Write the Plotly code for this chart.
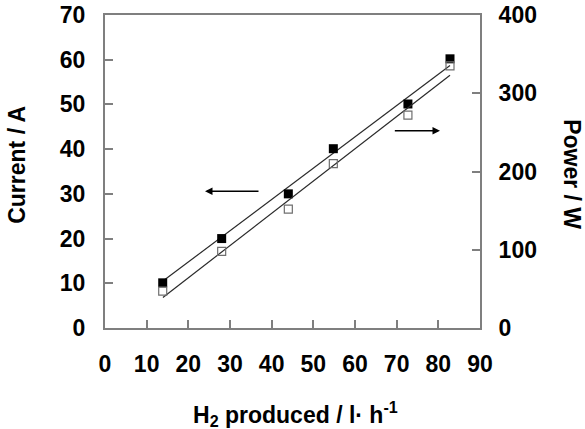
import plotly.graph_objects as go

# ---- data ----
h2_produced = [13.85, 28.0, 44.0, 54.8, 72.7, 82.8]      # l/h
current = [10.1, 20.0, 30.0, 40.1, 50.1, 60.2]            # A (left axis)
power = [47, 98, 152, 210, 272, 335]                      # W (right axis)

fit_x = [13.9, 82.8]
current_fit = [10.5, 58.7]
power_fit = [39, 323]

x_ticks = list(range(0, 100, 10))
y_ticks = list(range(0, 80, 10))
y2_ticks = list(range(0, 500, 100))

GRAY = "#7f7f7f"
FONT = "Liberation Sans, Arial, sans-serif"

fig = go.Figure()
fig.add_trace(go.Scatter(x=fit_x, y=current_fit, mode="lines",
                         line=dict(color="#2a2a2a", width=1.2), showlegend=False))
fig.add_trace(go.Scatter(x=fit_x, y=power_fit, mode="lines", yaxis="y2",
                         line=dict(color="#2a2a2a", width=1.2), showlegend=False))
fig.add_trace(go.Scatter(x=h2_produced, y=current, mode="markers",
                         marker=dict(symbol="square", size=9, color="black"),
                         showlegend=False))
fig.add_trace(go.Scatter(x=h2_produced, y=power, mode="markers", yaxis="y2",
                         marker=dict(symbol="square-open", size=8, color="#6f6f6f",
                                     line=dict(width=1.2)),
                         showlegend=False))

tickfont = dict(family=FONT, size=23, color="black", weight="bold")
common = dict(showgrid=False, zeroline=False, showline=True, linecolor=GRAY,
              linewidth=2, ticks="inside", ticklen=8, tickcolor=GRAY,
              tickwidth=1.5, tickfont=tickfont, ticklabeloverflow="allow")

fig.update_layout(
    width=585, height=429,
    margin=dict(l=105, r=105, t=15, b=101, autoexpand=False),
    paper_bgcolor="white", plot_bgcolor="white",
    xaxis=dict(range=[0, 90], tickvals=x_ticks, mirror=True,
               ticklabelstandoff=14, **common),
    yaxis=dict(range=[0, 70], tickvals=y_ticks, ticklabelstandoff=13, **common),
    yaxis2=dict(range=[0, 400], tickvals=y2_ticks, overlaying="y", side="right",
                ticklabelstandoff=12, **common),
)

title_font = dict(family=FONT, size=23, color="black", weight="bold")
fig.add_annotation(text="Current / A", xref="paper", yref="paper",
                   x=-0.235, y=0.521, textangle=-90, showarrow=False,
                   xanchor="center", yanchor="middle", font=title_font)
fig.add_annotation(text="Power / W", xref="paper", yref="paper",
                   x=1.245, y=0.492, textangle=90, showarrow=False,
                   xanchor="center", yanchor="middle", font=title_font)
fig.add_annotation(text="H<sub>2</sub> produced / l· h<sup>-1</sup>",
                   xref="paper", yref="paper", x=0.508, y=-0.275,
                   showarrow=False, xanchor="center", yanchor="middle",
                   font=title_font)

# arrows pointing to the relevant axes
arrow = dict(showarrow=True, text="", arrowhead=2, arrowsize=1, arrowwidth=1.5,
             arrowcolor="black", xref="x", yref="y", axref="x", ayref="y")
fig.add_annotation(x=24.0, y=30.6, ax=37.2, ay=30.6, **arrow)
fig.add_annotation(x=80.4, y=44.1, ax=69.2, ay=44.1, **arrow)

fig.write_html("out.html",
               config={"displayModeBar": False},
               post_script="document.body.style.margin='0';"
                           "document.body.style.overflow='hidden';")
